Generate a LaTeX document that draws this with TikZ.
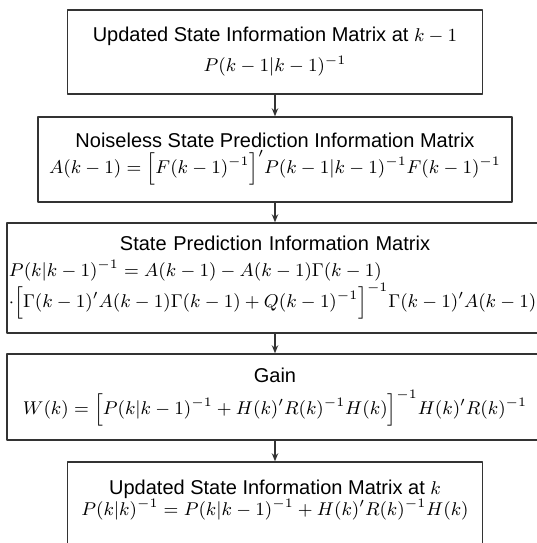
\RequirePackage{fix-cm}
\documentclass[tikz,border=0pt]{standalone}
\usepackage{amsmath}
\usepackage{fontspec}
\setsansfont{Liberation Sans}
\usetikzlibrary{arrows.meta}

\newcommand\frm[1]{{\fontsize{9.25}{11}\selectfont$#1$}}

\begin{document}
\begin{tikzpicture}[x=0.5pt, y=-0.5pt, line join=round, >={Stealth[length=4pt,width=3.2pt]},
	box/.style={draw=black!80, line width=0.7pt, align=center, inner sep=1pt, font=\sffamily},
	flow/.style={->, draw=black!80, line width=0.6pt}]
	\def\cx{275} % middle of the column
	\useasboundingbox (0,0) rectangle (537,543);
	\clip (0,0) rectangle (537,543);
	% boxes, top to bottom
	\node[box, minimum width=207.5pt, minimum height=42pt] (upd0) at (\cx,52)
		{Updated State Information Matrix at \frm{k-1}\\[3pt] \frm{P(k-1|k-1)^{-1}}};
	\node[box, minimum width=237pt, minimum height=42.5pt] (nlpred) at (\cx,159.5)
		{Noiseless State Prediction Information Matrix\\[1pt]
		\frm{A(k-1) = \Bigl[F(k-1)^{-1}\Bigr]'P(k-1|k-1)^{-1}F(k-1)^{-1}}};
	\node[box, align=left, text width=266pt, minimum height=55pt] (pred) at (\cx,278)
		{\makebox[\hsize]{State Prediction Information Matrix}\\[1pt]
		\frm{P(k|k-1)^{-1} = A(k-1) - A(k-1)\Gamma(k-1)}\\
		\frm{\cdot\Bigl[\Gamma(k-1)'A(k-1)\Gamma(k-1) + Q(k-1)^{-1}\Bigr]^{-1}\Gamma(k-1)'A(k-1)}};
	\node[box, minimum width=268pt, minimum height=43pt] (gain) at (\cx,397)
		{Gain\\[3pt] \frm{W(k) = \Bigl[P(k|k-1)^{-1} + H(k)'R(k)^{-1}H(k)\Bigr]^{-1}H(k)'R(k)^{-1}}};
	\node[box, minimum width=207.5pt, minimum height=42pt] (upd) at (\cx,504)
		{Updated State Information Matrix at \frm{k}\\[-1.5pt]
		\frm{P(k|k)^{-1} = P(k|k-1)^{-1} + H(k)'R(k)^{-1}H(k)}\rule[-6.5pt]{0pt}{0pt}};
	% connectors
	\foreach \a/\b in {upd0/nlpred, nlpred/pred, pred/gain, gain/upd}
		\draw[flow] (\a.south) -- (\b.north);
\end{tikzpicture}
\end{document}
